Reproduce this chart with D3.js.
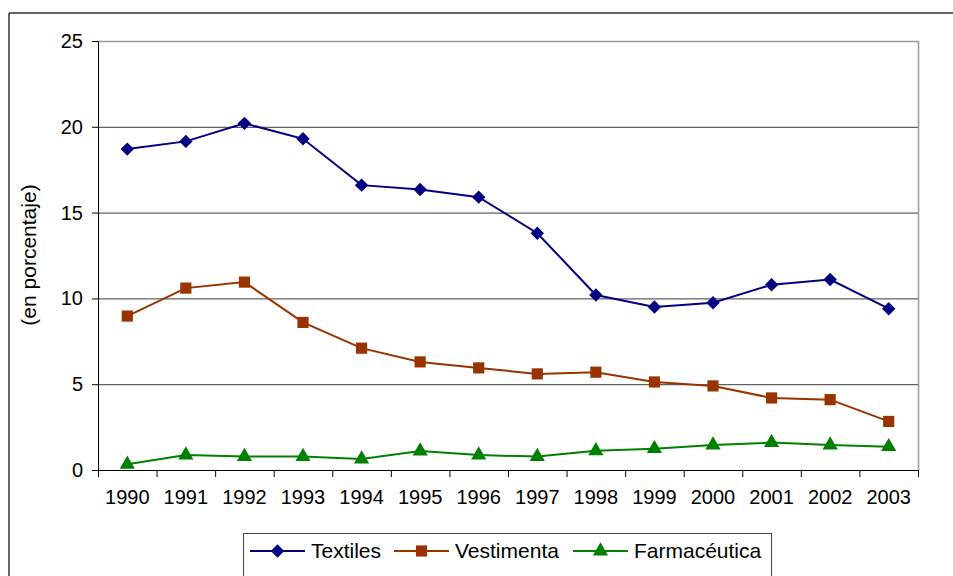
<!DOCTYPE html>
<html><head><meta charset="utf-8">
<script src="https://cdn.jsdelivr.net/npm/d3@7"></script>
<style>body{margin:0;background:#fff;}svg{display:block;font-family:"Liberation Sans",Arial,sans-serif;}</style>
</head><body>
<svg id="c" width="953" height="576"></svg>
<script>
const years = ["1990","1991","1992","1993","1994","1995","1996","1997","1998","1999","2000","2001","2002","2003"];
const textiles = [18.7,19.15,20.2,19.3,16.6,16.35,15.9,13.8,10.2,9.5,9.75,10.8,11.1,9.4];
const vestimenta = [8.97,10.6,10.95,8.6,7.1,6.3,5.95,5.6,5.7,5.13,4.9,4.2,4.1,2.83];
const farmaceutica = [0.33,0.87,0.78,0.78,0.64,1.1,0.87,0.78,1.12,1.24,1.45,1.6,1.45,1.36];
const yTicks = [0,5,10,15,20,25];
const seriesNames = ["Textiles","Vestimenta","Farmacéutica"];

const svg = d3.select("#c");
const L=98, R=918, T=41, B=470;
const x = d3.scaleBand().domain(years).range([L,R]).padding(0);
const y = d3.scaleLinear().domain([0,25]).range([B,T]);

// outer frame
svg.append("line").attr("x1",9).attr("x2",953).attr("y1",13).attr("y2",13).attr("stroke","#333").attr("stroke-width",1.5);
svg.append("line").attr("x1",9).attr("x2",9).attr("y1",13).attr("y2",576).attr("stroke","#333").attr("stroke-width",1.5);

// gridlines
svg.append("g").selectAll("line").data(yTicks.filter(d=>d>0 && d<25)).join("line")
  .attr("x1",L).attr("x2",R).attr("y1",d=>y(d)+0.5).attr("y2",d=>y(d)+0.5)
  .attr("stroke","#3a3a3a").attr("stroke-width",1);
// plot border top/right
svg.append("path").attr("d",`M${L},${T+0.5}H${R+0.5}V${B}`).attr("fill","none").attr("stroke","#999").attr("stroke-width",1.5);

// y axis
const yAxis = svg.append("g").attr("transform",`translate(${L},0)`)
  .call(d3.axisLeft(y).tickValues(yTicks).tickSize(6).tickPadding(9).tickSizeOuter(0));
yAxis.select(".domain").attr("stroke","#000");
yAxis.selectAll(".tick line").attr("stroke","#000");
yAxis.selectAll("text").attr("font-size",20).attr("fill","#000").attr("font-family","Liberation Sans, Arial, sans-serif");

// x axis
const xAxis = svg.append("g").attr("transform",`translate(0,${B})`)
  .call(d3.axisBottom(x).tickSize(0).tickPadding(20).tickSizeOuter(0));
xAxis.select(".domain").attr("stroke","#000");
xAxis.selectAll("text").attr("font-size",20).attr("fill","#000").attr("font-family","Liberation Sans, Arial, sans-serif");
const edges = years.map(d=>x(d)).concat([R]);
xAxis.selectAll(".edge").data(edges).join("line").attr("class","edge")
  .attr("x1",d=>d+0.5).attr("x2",d=>d+0.5).attr("y1",0).attr("y2",7).attr("stroke","#000");

// y title
svg.append("text").attr("transform","translate(36,255) rotate(-90)").attr("text-anchor","middle")
  .attr("font-size",21).attr("fill","#000").text("(en porcentaje)");

const cx = d => x(d)+x.bandwidth()/2;
const colors = ["#000080","#993300","#008000"];
const data = [textiles, vestimenta, farmaceutica];
const symbols = [d3.symbolDiamond2, d3.symbolSquare, d3.symbolTriangle];
const sizes = [115, 125, 100];
const line = d3.line().x((d,i)=>cx(years[i])).y(d=>y(d));

data.forEach((vals,k)=>{
  svg.append("path").datum(vals).attr("d",line).attr("fill","none").attr("stroke",colors[k]).attr("stroke-width",2);
  svg.append("g").selectAll("path").data(vals).join("path")
    .attr("transform",(d,i)=>`translate(${cx(years[i])},${y(d)})`)
    .attr("d",d3.symbol().type(symbols[k]).size(sizes[k])).attr("fill",colors[k]);
});

// legend
const lg = svg.append("g");
lg.append("rect").attr("x",243.5).attr("y",533.5).attr("width",528).attr("height",50).attr("fill","#fff").attr("stroke","#444").attr("stroke-width",1);
const lx = [250, 394, 573];
seriesNames.forEach((n,k)=>{
  lg.append("line").attr("x1",lx[k]).attr("x2",lx[k]+55).attr("y1",551).attr("y2",551).attr("stroke",colors[k]).attr("stroke-width",2);
  lg.append("path").attr("transform",`translate(${lx[k]+27.5},551)`)
    .attr("d",d3.symbol().type(symbols[k]).size(sizes[k])).attr("fill",colors[k]);
  lg.append("text").attr("x",lx[k]+61).attr("y",558).attr("font-size",21).attr("fill","#000").text(n);
});
</script>
</body></html>
